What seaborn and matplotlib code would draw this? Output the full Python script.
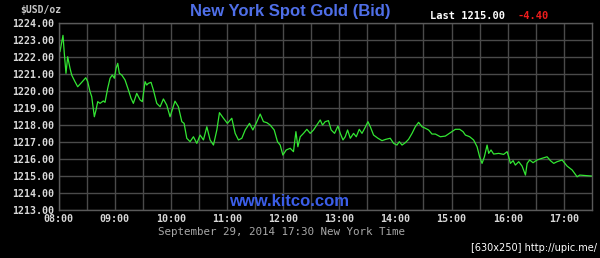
import matplotlib
matplotlib.use("Agg")
import matplotlib.pyplot as plt
import seaborn as sns
import pandas as pd

# minutes after 08:00 (New York time)
minutes = [0, 1.6, 4.8, 6.2, 8.0, 9.8, 12.3, 14.1, 17.6, 20.5, 24.8, 29.1, 31.2, 33.7, 35.5,
           38.3, 40.1, 41.9, 44.4, 47.9, 49.7, 52.6, 55.1, 57.5, 59.7, 61.5, 63.3, 65.0, 67.6,
           71.1, 74.7, 77.5, 80.0, 83.6, 87.2, 89.6, 92.5, 94.3, 96.0, 98.9, 101.4, 105.0,
           108.6, 112.1, 115.7, 119.2, 124.5, 128.1, 131.8, 134.2, 137.1, 140.6, 144.2, 147.8,
           151.3, 154.9, 158.5, 162.0, 165.6, 169.2, 172.0, 176.3, 180.5, 185.2, 188.8, 192.3,
           195.9, 199.5, 204.1, 207.7, 211.2, 215.5, 219.0, 222.7, 226.2, 230.5, 234.0, 236.9,
           239.8, 243.3, 247.6, 251.1, 253.7, 255.8, 258.3, 261.8, 265.4, 269.0, 272.5, 276.1,
           279.7, 282.1, 285.0, 288.5, 291.4, 295.0, 298.6, 301.1, 304.0, 306.4, 308.9, 311.8,
           315.3, 318.2, 321.4, 324.3, 327.8, 330.7, 333.2, 336.7, 341.4, 345.7, 349.9, 354.5,
           358.1, 361.7, 364.2, 367.1, 370.6, 374.1, 377.8, 381.3, 384.8, 388.4, 392.0, 395.5,
           399.1, 402.7, 408.0, 413.4, 418.7, 424.1, 428.7, 432.3, 434.8, 439.4, 443.6, 447.3,
           450.0, 452.6, 455.1, 458.0, 459.7, 462.2, 465.0, 470.4, 475.7, 479.4, 481.1, 482.9,
           485.8, 488.2, 491.8, 495.4, 499.0, 500.8, 503.5, 507.1, 511.4, 516.8, 522.1, 525.7,
           529.2, 532.8, 538.2, 543.5, 548.9, 554.2, 557.0, 570.0]
bid = [1223.03, 1222.34, 1223.30, 1222.24, 1221.06, 1222.04, 1221.36, 1220.96, 1220.57, 1220.27,
       1220.53, 1220.80, 1220.57, 1219.98, 1219.68, 1218.50, 1218.90, 1219.39, 1219.29, 1219.43,
       1219.35, 1220.18, 1220.77, 1220.96, 1220.77, 1221.36, 1221.65, 1221.06, 1220.96, 1220.67,
       1220.08, 1219.59, 1219.29, 1219.88, 1219.49, 1219.39, 1220.57, 1220.37, 1220.47, 1220.53,
       1220.08, 1219.29, 1219.09, 1219.55, 1219.19, 1218.50, 1219.42, 1219.09, 1218.21, 1218.11,
       1217.23, 1217.03, 1217.32, 1216.93, 1217.42, 1217.13, 1217.91, 1217.13, 1216.83, 1217.72,
       1218.74, 1218.41, 1218.11, 1218.41, 1217.52, 1217.13, 1217.23, 1217.72, 1218.11, 1217.72,
       1218.11, 1218.66, 1218.21, 1218.15, 1218.01, 1217.72, 1217.03, 1216.83, 1216.24, 1216.54,
       1216.64, 1216.44, 1217.62, 1216.73, 1217.32, 1217.52, 1217.76, 1217.52, 1217.72, 1218.01,
       1218.31, 1218.01, 1218.21, 1218.27, 1217.72, 1217.52, 1217.95, 1217.52, 1217.13, 1217.32,
       1217.72, 1217.23, 1217.52, 1217.32, 1217.76, 1217.52, 1217.88, 1218.21, 1217.91, 1217.42,
       1217.23, 1217.09, 1217.17, 1217.23, 1216.93, 1216.83, 1217.03, 1216.83, 1216.97, 1217.17,
       1217.52, 1217.91, 1218.17, 1217.91, 1217.82, 1217.72, 1217.48, 1217.48, 1217.32, 1217.36,
       1217.56, 1217.76, 1217.76, 1217.62, 1217.42, 1217.32, 1217.13, 1216.73, 1216.14, 1215.75,
       1216.14, 1216.83, 1216.34, 1216.54, 1216.30, 1216.34, 1216.28, 1216.44, 1216.14, 1215.75,
       1215.91, 1215.65, 1215.85, 1215.59, 1215.06, 1215.75, 1215.95, 1215.79, 1215.95, 1216.05,
       1216.14, 1215.91, 1215.75, 1215.85, 1215.95, 1215.59, 1215.36, 1214.96, 1215.06, 1215.00]

x_tick_minutes = [0, 60, 120, 180, 240, 300, 360, 420, 480, 540]
x_tick_labels = ["08:00", "09:00", "10:00", "11:00", "12:00", "13:00", "14:00", "15:00", "16:00", "17:00"]
y_ticks = [1213, 1214, 1215, 1216, 1217, 1218, 1219, 1220, 1221, 1222, 1223, 1224]

title = "New York Spot Gold (Bid)"
last_text = "Last 1215.00"
change_text = "-4.40"

df = pd.DataFrame({"minutes": minutes, "bid": bid})

sns.set_theme(style="dark")
mono = ["DejaVu Sans Mono"]
plt.rcParams["font.family"] = ["DejaVu Sans"]

fig = plt.figure(figsize=(6.0, 2.58), dpi=100, facecolor="black")
ax = fig.add_axes([0.0975, 0.186, 0.889, 0.723])
ax.set_facecolor("black")

sns.lineplot(data=df, x="minutes", y="bid", ax=ax, color="#33e633", linewidth=0.9)

ax.set_xlim(0, 570)
ax.set_ylim(1213, 1224)
ax.set_yticks(y_ticks)
ax.set_xticks(x_tick_minutes)
ax.set_xticks([30 + 60 * i for i in range(9)], minor=True)
ax.set_xticklabels(x_tick_labels)
ax.set_yticklabels([f"{v:.2f}" for v in y_ticks])
ax.grid(True, which="both", color="#4a4a4a", linewidth=1.0)
ax.tick_params(axis="both", which="both", length=0, colors="#d8d8d8", pad=3)
for lab in ax.get_xticklabels() + ax.get_yticklabels():
    lab.set_family(mono)
    lab.set_fontsize(7.2)
    lab.set_fontweight("bold")
for s in ax.spines.values():
    s.set_color("#5a5a5a")
    s.set_linewidth(1.0)
ax.set_xlabel("")
ax.set_ylabel("")

fig.text(0.483, 0.955, title, ha="center", va="center", color="#4f6fe8",
         fontsize=12, fontweight="bold", family=["Liberation Sans"])
fig.text(0.717, 0.938, last_text, ha="left", va="center", color="white",
         fontsize=7.5, fontweight="bold", family=mono)
fig.text(0.862, 0.938, change_text, ha="left", va="center", color="#ee1c1c",
         fontsize=7.5, fontweight="bold", family=mono)
fig.text(0.033, 0.962, "$USD/oz", ha="left", va="center", color="#c8c8c8",
         fontsize=7, fontweight="bold", family=mono)
fig.text(0.482, 0.218, "www.kitco.com", ha="center", va="center", color="#3b5ee8",
         fontsize=12, fontweight="bold", family=["Liberation Sans"])
fig.text(0.47, 0.100, "September 29, 2014 17:30 New York Time", ha="center", va="center",
         color="#a8a8a8", fontsize=7.8, family=mono)
fig.text(0.995, 0.04, "[630x250] http://upic.me/", ha="right", va="center",
         color="white", fontsize=7, family=["Liberation Sans Narrow", "DejaVu Sans"])

fig.savefig("out.png", dpi=100, facecolor="black")
